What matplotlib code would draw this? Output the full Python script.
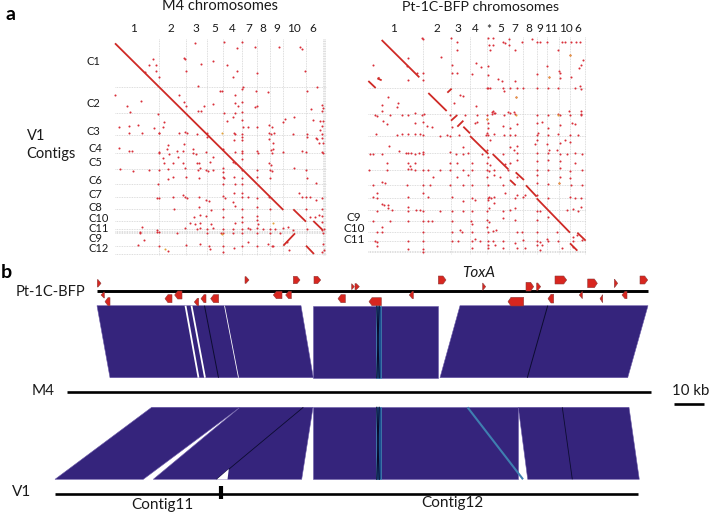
import matplotlib
matplotlib.use('Agg')
import matplotlib.pyplot as plt
from matplotlib.patches import Polygon

plt.rcParams['font.family'] = ['Lato', 'DejaVu Sans']

RED = '#d8261f'
PURPLE = '#35247c'
SCALE = 3.0
LEFT_X0 = 0
RIGHT_X0 = 340
GENE_R_X0 = 350

# panel a, M4
m4_labels = ['1', '2', '3', '5', '4', '7', '8', '9', '10', '6']
m4_label_x = [400, 513, 587, 645, 696, 745, 788, 830, 881, 938]
m4_vlines = [476, 558, 620, 670, 725, 770, 810, 850, 918, 968, 972, 975]
m4_hlines = [260, 340, 405, 460, 508, 553, 592, 628, 663, 688, 692, 696, 700, 737, 762]
m4_contigs = ['C1', 'C2', 'C3', 'C4', 'C5', 'C6', 'C7', 'C8', 'C10', 'C11', 'C9', 'C12']
m4_contig_x = [281, 281, 281, 285, 285, 286, 286, 286, 296, 296, 286, 296]
m4_contig_y = [185, 310, 395, 445, 487, 541, 582, 623, 654, 684, 714, 746]
m4_segments = [(345, 130, 850, 630), (880, 628, 918, 665), (940, 663, 968, 690),
               (850, 737, 885, 700), (918, 737, 942, 762)]
m4_dots = [
    (586,128),(673,127),(726,126),(766,140),(710,144),(838,140),(900,142),(905,146),
    (552,173),(556,177),(460,177),(446,194),(467,194),(603,193),(638,184),(680,194),(468,212),(558,212),
    (434,216),(710,212),(770,218),(916,213),(700,232),(476,232),
    (595,258),(725,268),(730,262),(660,273),(666,273),(768,272),(805,275),(920,272),(952,262),(706,285),
    (537,284),(770,318),(424,303),(380,318),(553,306),(557,318),(612,318),(638,312),(705,310),(725,307),
    (715,318),(765,320),(932,326),(965,315),(968,325),(965,332),(389,336),(594,332),(604,334),(672,338),
    (706,340),(725,335),(475,342),(346,285),
    (856,356),(882,352),(938,360),(960,362),(968,362),(848,365),(700,350),(682,362),(492,367),(726,360),
    (730,380),(744,380),(414,374),(356,380),(388,378),(462,385),(490,382),(770,380),(808,375),(815,380),
    (965,378),(960,390),
    (386,400),(426,398),(476,398),(478,400),(536,398),(554,396),(560,398),(590,402),(620,400),(702,400),
    (705,403),(726,402),(808,400),(812,403),(822,400),(880,403),(920,402),(965,402),
    (726,410),(620,410),(702,420),(725,420),(808,418),(920,410),(948,413),(952,418),(965,415),(970,430),
    (958,428),(552,432),(505,436),(820,430),(356,444),(388,452),(396,453),(476,455),(478,460),(500,448),
    (506,462),(530,452),(548,452),(578,448),(578,460),(588,462),(618,455),(670,448),(705,455),(725,452),
    (726,458),(770,452),(775,460),(812,450),(818,448),(815,458),(848,456),(905,452),(918,455),(965,455),(968,460),
    (490,475),(533,470),(550,488),(520,488),(492,490),(590,488),(598,490),(630,485),(640,470),(700,486),
    (705,488),(725,478),(808,488),(812,495),(882,505),(360,507),(398,514),(448,510),(476,510),(505,508),
    (555,505),(595,510),(600,505),(618,510),(625,512),(640,510),(670,505),(670,515),(725,510),(770,510),
    (810,510),(815,512),(918,510),
    (520,532),(505,537),(475,552),(558,530),(598,535),(670,530),(672,535),(702,532),(725,535),(770,530),
    (810,535),(922,535),(948,550),(668,552),(705,552),(725,552),
    (472,593),(477,594),(520,590),(550,585),(555,590),(562,595),(598,590),(618,600),(628,602),(670,588),
    (675,595),(702,578),(725,580),(725,592),(745,590),(770,595),(808,592),(897,578),(905,590),(918,592),
    (930,590),(948,600),(965,595),(700,605),(705,618),
    (522,628),(598,620),(632,630),(670,628),(725,628),(770,622),(810,628),(918,628),(965,628),(965,648),(958,645),
    (582,650),(600,644),(618,648),(725,650),(770,648),(772,660),(725,665),(670,650),(600,670),(585,672),
    (570,670),(705,670),(632,672),(775,672),(945,650),(930,650),(965,665),
    (425,680),(555,685),(590,688),(600,685),(620,688),(640,685),(670,688),(700,688),(725,688),(745,685),
    (750,688),(770,685),(790,688),(810,688),(825,688),(850,683),(865,682),(880,690),(920,688),(965,690),
    (972,688),(472,695),(476,695),(420,697),(470,690),
    (420,700),(530,700),(620,700),(662,698),(670,700),(700,700),(840,700),(725,700),(770,698),(810,698),
    (968,700),(432,720),(745,725),(805,732),(815,737),(820,738),(413,735),(476,737),(558,735),(600,732),
    (628,737),(670,737),(725,737),(770,737),(860,725),(968,733),(505,752),(630,748),(670,755),(702,745),
    (868,750),(965,755),(972,750),
]
m4_yellow = [(665, 398), (665, 702), (494, 748), (820, 668)]

# panel a, Pt-1C-BFP
pt_labels = ['1', '2', '3', '4', '*', '5', '7', '8', '9', '11', '10', '6']
pt_label_x = [160, 290, 355, 405, 447, 481, 523, 566, 598, 634, 678, 712]
pt_vlines = [250, 332, 390, 440, 507, 548, 590, 622, 657, 690, 735]
pt_hlines = [265, 343, 407, 460, 511, 555, 595, 630, 663, 697, 722, 752, 756]
pt_contigs = ['C9', 'C10', 'C11']
pt_contig_y = [652, 685, 718]
pt_segments = [(125, 120, 238, 232), (85, 243, 107, 264), (112, 235, 125, 241),
               (115, 232, 118, 236), (265, 279, 320, 333), (322, 278, 335, 266),
               (333, 362, 352, 345), (352, 380, 370, 362), (370, 380, 390, 400),
               (390, 408, 445, 462), (458, 462, 505, 508), (527, 517, 552, 540),
               (510, 540, 527, 556), (558, 556, 590, 590), (590, 595, 690, 698),
               (712, 698, 737, 722), (690, 730, 712, 752)]
pt_dots = [
    (245,115),(250,118),(332,113),(350,125),(350,150),(445,113),(458,113),(490,125),(508,118),(495,130),
    (507,135),(525,150),(547,125),(576,116),(590,126),(600,126),(622,126),(666,126),(674,126),(692,126),
    (707,126),(720,126),(447,135),(460,135),(450,150),(655,150),(690,165),(303,170),(205,175),(100,195),
    (202,198),(335,195),(407,190),(445,198),(422,200),(728,180),(722,195),(718,205),(622,197),(658,212),
    (660,220),(230,220),(250,218),(335,220),(352,220),(395,222),(590,222),(628,230),(694,230),(445,225),
    (205,240),(250,240),(475,238),(485,243),(525,243),(660,235),
    (440,264),(445,265),(450,265),(490,265),(491,272),(510,265),(530,265),(548,265),(590,265),(625,265),
    (655,265),(705,265),(720,258),(722,268),(143,292),(360,285),(370,288),(528,292),(175,310),(125,316),
    (125,332),(172,322),(407,317),(342,310),(505,335),(510,340),(522,335),(525,342),(455,335),(460,332),
    (462,340),(456,342),(465,338),(655,342),(660,345),(688,333),(722,333),(722,342),(105,345),(110,348),
    (150,345),(185,345),(205,345),(225,340),(245,345),(252,343),(330,345),(375,345),(410,345),(440,345),
    (492,345),(590,345),(625,345),(690,345),(724,345),
    (440,358),(445,370),(130,362),(140,372),(225,368),(250,365),(262,378),(275,380),(335,380),(410,367),
    (405,370),(490,378),(530,372),(510,385),(590,370),(605,365),(623,385),(660,375),(695,370),(705,372),
    (445,385),(440,400),(445,405),(438,405),(462,402),(492,405),(510,405),(525,405),(590,405),(595,400),
    (623,405),(655,402),(690,405),(715,405),(107,402),(170,405),(185,402),(205,402),(225,403),(240,403),
    (250,405),(300,407),(320,405),(358,405),(330,408),(675,420),(690,425),(590,420),(585,432),(620,432),
    (660,430),(510,440),(530,438),(146,438),(450,420),
    (90,461),(100,462),(125,461),(178,452),(197,460),(205,458),(212,460),(225,462),(238,460),(250,455),
    (250,462),(330,455),(348,462),(368,440),(370,462),(385,460),(425,462),(445,470),(490,462),(530,460),
    (590,460),(625,460),(660,462),(680,462),(705,458),(725,462),(440,450),(522,450),(628,450),(650,450),
    (205,490),(210,498),(142,490),(225,490),(330,490),(352,490),(395,490),(440,490),(450,495),(495,492),
    (510,490),(530,480),(590,482),(625,480),(660,482),(705,490),
    (88,511),(140,511),(205,507),(212,508),(225,510),(250,510),(265,510),(300,510),(330,510),(370,511),
    (395,510),(442,510),(447,512),(462,511),(505,511),(590,510),(625,510),(660,505),(690,512),(725,510),
    (278,530),(350,530),(385,525),(440,530),(462,525),(480,530),(530,530),(590,525),(660,530),(690,535),
    (125,545),(135,548),(100,555),(200,555),(250,555),(270,555),(330,555),(370,555),(395,555),(445,555),
    (490,555),(590,550),(625,553),(657,550),(692,555),(725,555),
    (110,578),(100,590),(110,595),(205,590),(250,580),(265,590),(335,590),(368,603),(395,595),(405,600),
    (443,593),(448,590),(452,595),(445,600),(462,590),(495,580),(530,585),(525,595),(548,590),(555,585),
    (590,585),(625,595),(690,590),(705,595),(722,595),(125,612),(132,615),(145,625),(155,630),(143,615),
    (110,632),(205,620),(205,632),(228,630),(240,630),(250,632),(300,632),(335,632),(370,632),(395,632),
    (440,632),(447,625),(462,610),(490,632),(510,630),(525,625),(590,632),(600,632),(680,630),(700,628),
    (715,632),(722,622),
    (100,663),(150,663),(205,663),(250,663),(265,663),(275,663),(335,663),(393,662),(395,672),(440,660),
    (447,665),(490,655),(525,660),(590,660),(625,650),(440,680),(445,695),(460,692),(468,690),(530,695),
    (545,695),(127,680),(110,697),(125,697),(250,697),(335,697),(360,690),(365,697),(395,697),(590,697),
    (650,697),(700,710),(710,705),
    (105,722),(110,725),(205,722),(250,722),(335,722),(355,722),(395,722),(405,718),(420,722),(445,722),
    (460,722),(490,722),(548,720),(590,722),(600,725),(625,722),(622,718),(655,722),(700,722),(725,720),
    (445,735),(465,735),(525,728),(590,735),(605,735),(700,740),(110,738),(250,748),(205,748),(250,755),
    (395,745),(445,745),(490,745),(530,745),(555,745),(600,750),(665,745),
]
pt_yellow = [(528, 345), (655, 345), (440, 358), (528, 292), (628, 230), (658, 550), (690, 165)]

# panel b, genes as (x start, x end, row y, height), zoom px of the two b crops
genes_right_a = [(292, 303, 70, 22), (735, 747, 60, 20), (880, 900, 60, 22), (942, 962, 60, 22),
                 (1055, 1063, 80, 18), (1065, 1078, 80, 18)]
genes_left_a = [(303, 313, 105, 18), (315, 330, 125, 24), (495, 516, 116, 24), (524, 546, 105, 24),
                (583, 596, 126, 22), (603, 618, 116, 24), (632, 656, 116, 24), (820, 846, 105, 22),
                (857, 874, 105, 22), (1014, 1036, 116, 24)]
genes_right_b = [(265, 288, 60, 24), (398, 407, 80, 22), (528, 551, 80, 26), (560, 572, 80, 22),
                 (615, 650, 60, 24), (713, 742, 70, 26), (793, 803, 70, 24), (870, 893, 60, 24)]
genes_left_b = [(57, 94, 125, 24), (178, 190, 105, 22), (474, 521, 125, 26), (594, 611, 116, 26),
                (688, 697, 105, 22), (750, 758, 116, 24), (816, 831, 105, 22)]

# panel b, synteny blocks in image px: top left, top right, bottom right, bottom left
upper_y = (305.7, 377.7)
lower_y = (407.3, 479.3)
upper_blocks = [(97, 301, 313.3, 110), (313.3, 438.3, 438.3, 313.3), (460, 648, 627.7, 440)]
lower_blocks = [(151.7, 240, 143.3, 55), (240, 313, 301.7, 153.3), (313.3, 518.3, 518.3, 313.3),
                (518.3, 629, 639.3, 527.7)]
upper_white = [(185.5, 198.5, 1.8), (191.5, 205, 1.8), (224.5, 238.5, 0.8)]
upper_black = [(204.5, 218.5), (547.7, 527.3)]
lower_black = [(303.3, 216.7), (562.3, 572.3)]
centre_band = (375.5, 380.5)

fig = plt.figure(figsize=(7.09, 5.13), dpi=100)
ax = fig.add_axes([0, 0, 1, 1])
ax.set_xlim(0, 709)
ax.set_ylim(513, 0)
ax.axis('off')


def draw_dotplot(x0, vlines, hlines, span_x, span_y, segments, dots, yellow):
    for v in vlines:
        ax.plot([x0 + v / SCALE] * 2, [span_y[0] / SCALE, span_y[1] / SCALE], color='#d2d2d2',
                lw=0.6, ls=(0, (1, 1)), zorder=1)
    for h in hlines:
        ax.plot([x0 + span_x[0] / SCALE, x0 + span_x[1] / SCALE], [h / SCALE] * 2, color='#d2d2d2',
                lw=0.6, ls=(0, (1, 1)), zorder=1)
    for s in segments:
        ax.plot([x0 + s[0] / SCALE, x0 + s[2] / SCALE], [s[1] / SCALE, s[3] / SCALE], color='#cf2a26',
                lw=1.3, solid_capstyle='butt', zorder=3)
    ax.scatter([x0 + d[0] / SCALE for d in dots], [d[1] / SCALE for d in dots], s=2.2, color='#d9303a',
               linewidths=0, zorder=2)
    ax.scatter([x0 + d[0] / SCALE for d in yellow], [d[1] / SCALE for d in yellow], s=2.2, color='#e2a33c',
               linewidths=0, zorder=2)


draw_dotplot(LEFT_X0, m4_vlines, m4_hlines, (345, 978), (118, 765), m4_segments, m4_dots, m4_yellow)
draw_dotplot(RIGHT_X0, pt_vlines, pt_hlines, (85, 738), (110, 762), pt_segments, pt_dots, pt_yellow)

text_opts = dict(color='#1a1a1a', ha='center', va='center')
ax.text(10, 14, 'a', fontsize=14, fontweight='bold', color='black', ha='center', va='center')
ax.text(220, 6, 'M4 chromosomes', fontsize=10.5, **text_opts)
ax.text(480.5, 7, 'Pt-1C-BFP chromosomes', fontsize=10.2, **text_opts)
for lab, lx in zip(m4_labels, m4_label_x):
    ax.text(lx / SCALE, 29, lab, fontsize=8.5, **text_opts)
for lab, lx in zip(pt_labels, pt_label_x):
    ax.text(RIGHT_X0 + lx / SCALE, 29, lab, fontsize=8.5, **text_opts)
for lab, lx, ly in zip(m4_contigs, m4_contig_x, m4_contig_y):
    ax.text(lx / SCALE, ly / SCALE, lab, fontsize=8, **text_opts)
for lab, ly in zip(pt_contigs, pt_contig_y):
    ax.text(RIGHT_X0 + 42 / SCALE, ly / SCALE, lab, fontsize=8.5, **text_opts)
ax.text(26.5, 136, 'V1', fontsize=10.5, color='#1a1a1a', ha='left', va='center')
ax.text(26.5, 154, 'Contigs', fontsize=10.5, color='#1a1a1a', ha='left', va='center')

# panel b
ax.text(6, 273, 'b', fontsize=14, fontweight='bold', color='black', ha='center', va='center')
ax.text(16, 292, 'Pt-1C-BFP', fontsize=10.5, color='#1a1a1a', ha='left', va='center')
ax.text(479, 273, 'ToxA', fontsize=11, style='italic', **text_opts)
ax.text(43, 391, 'M4', fontsize=11, **text_opts)
ax.text(12, 492, 'V1', fontsize=11, color='#1a1a1a', ha='left', va='center')
ax.text(162, 505, 'Contig11', fontsize=11, **text_opts)
ax.text(452, 503, 'Contig12', fontsize=11, **text_opts)
ax.text(690.5, 391, '10 kb', fontsize=10.8, **text_opts)
ax.plot([674, 704], [404, 404], color='black', lw=1.9, solid_capstyle='butt')

ax.plot([97, 648], [291, 291], color='black', lw=2.1, solid_capstyle='butt', zorder=2)
ax.plot([67, 651], [392, 392], color='black', lw=1.9, solid_capstyle='butt', zorder=2)
ax.plot([55, 638], [494, 494], color='black', lw=1.9, solid_capstyle='butt', zorder=2)
ax.plot([221, 221], [486, 499], color='black', lw=3, solid_capstyle='butt', zorder=2)


def draw_blocks(blocks, y):
    for tl, tr, br, bl in blocks:
        ax.add_patch(Polygon([(tl, y[0]), (tr, y[0]), (br, y[1]), (bl, y[1])], closed=True,
                             facecolor=PURPLE, edgecolor='#6a5aa8', lw=0.4, zorder=3))


draw_blocks(upper_blocks, upper_y)
draw_blocks(lower_blocks, lower_y)

for top, bottom, width in upper_white:
    ax.plot([top, bottom], upper_y, color='white', lw=width * 0.72, solid_capstyle='butt', zorder=4)
for top, bottom in upper_black:
    ax.plot([top, bottom], upper_y, color='#0c0c30', lw=0.7, solid_capstyle='butt', zorder=4)
for top, bottom in lower_black:
    ax.plot([top, bottom], lower_y, color='#0c0c30', lw=0.6, solid_capstyle='butt', zorder=4)

# white notch under the second lower block
ax.add_patch(Polygon([(216.7, 479.5), (227.5, 479.5), (228.8, 469)], closed=True, facecolor='white',
                     edgecolor='none', zorder=4))
# blue inversion running through the lower right block
ax.plot([467.5, 523], lower_y, color='#3f7fb0', lw=1.5, solid_capstyle='butt', zorder=4)

# cross in the middle block
for y in (upper_y, lower_y):
    ax.add_patch(Polygon([(centre_band[0], y[0]), (centre_band[1], y[0]), (centre_band[1], y[1]),
                          (centre_band[0], y[1])], closed=True, facecolor='#1a4f8f', edgecolor='#4f9fc0',
                         lw=0.4, zorder=4))
    ax.plot([376.8, 379.2], y, color='#0a0a2a', lw=0.8, zorder=5)
    ax.plot([379.2, 376.8], y, color='#0a0a2a', lw=0.8, zorder=5)


def draw_gene(x_start, x_end, row, height, forward):
    y = 260 + row / SCALE
    half = height / SCALE / 2
    head = min(3.0, x_end - x_start)
    if forward:
        pts = [(x_start, y - half), (x_end - head, y - half), (x_end, y), (x_end - head, y + half),
               (x_start, y + half)]
    else:
        pts = [(x_end, y - half), (x_start + head, y - half), (x_start, y), (x_start + head, y + half),
               (x_end, y + half)]
    ax.add_patch(Polygon(pts, closed=True, facecolor=RED, edgecolor='#8e3a3a', lw=0.4, zorder=6))


for g in genes_right_a:
    draw_gene(g[0] / SCALE, g[1] / SCALE, g[2], g[3], True)
for g in genes_left_a:
    draw_gene(g[0] / SCALE, g[1] / SCALE, g[2], g[3], False)
for g in genes_right_b:
    draw_gene(GENE_R_X0 + g[0] / SCALE, GENE_R_X0 + g[1] / SCALE, g[2], g[3], True)
for g in genes_left_b:
    draw_gene(GENE_R_X0 + g[0] / SCALE, GENE_R_X0 + g[1] / SCALE, g[2], g[3], False)

fig.savefig('out.png', dpi=100)
